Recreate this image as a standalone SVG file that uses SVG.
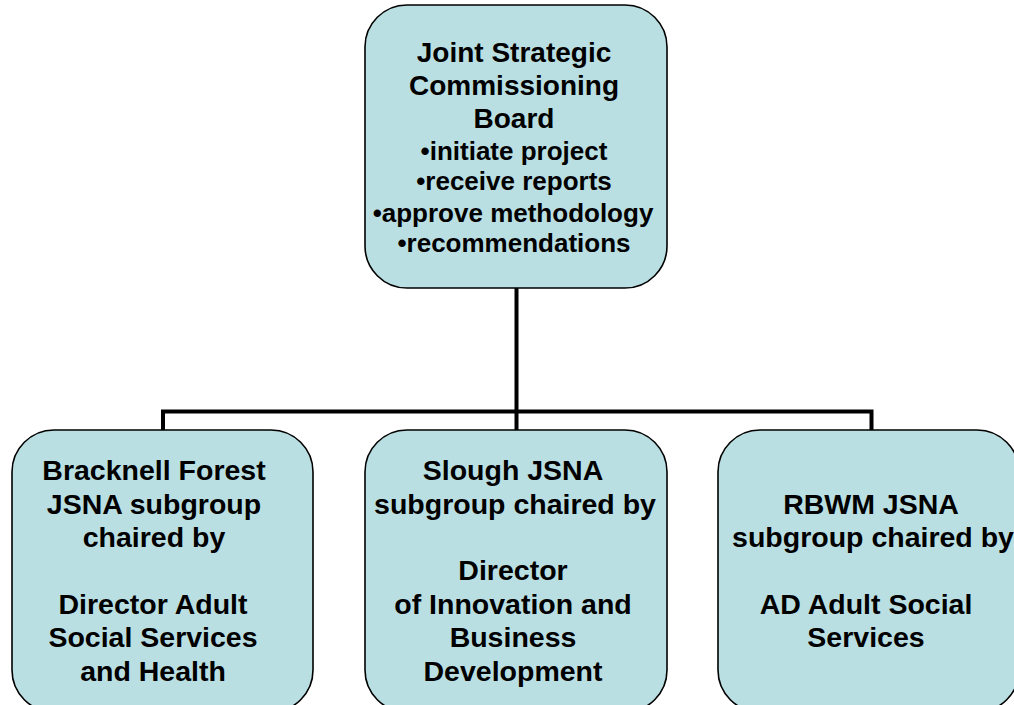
<svg xmlns="http://www.w3.org/2000/svg" width="1014" height="705" viewBox="0 0 1014 705">
<style>
.box{fill:#BADFE3;stroke:#000;stroke-width:1.6}
.t{font-family:"Liberation Sans",Arial,sans-serif;font-weight:bold;fill:#000;text-anchor:middle}
.conn{fill:none;stroke:#000;stroke-width:4;stroke-linejoin:miter}
</style>
<rect x="0" y="0" width="1014" height="705" fill="#fff"/>
<g id="connectors">
<path class="conn" d="M516.5,288 V411.5"/>
<path class="conn" d="M163,430 V411.5 H871.5 V430"/>
<path class="conn" d="M516.5,411.5 V430"/>
</g>
<g id="board">
<rect class="box" x="365" y="5" width="302" height="283" rx="42" ry="42"/>
<text class="t" font-size="28"><tspan x="514" y="62">Joint Strategic</tspan><tspan x="514" y="95">Commissioning</tspan><tspan x="514" y="128">Board</tspan></text>
<text class="t" font-size="26"><tspan x="514" y="160">•initiate project</tspan><tspan x="514" y="190">•receive reports</tspan><tspan x="513" y="222">•approve methodology</tspan><tspan x="514" y="252">•recommendations</tspan></text>
</g>
<g id="bracknell">
<rect class="box" x="12" y="430" width="301" height="282" rx="42" ry="42"/>
<text class="t" font-size="28.5"><tspan x="154" y="480">Bracknell Forest</tspan><tspan x="154" y="514">JSNA subgroup</tspan><tspan x="154" y="547">chaired by</tspan><tspan x="153" y="614">Director Adult</tspan><tspan x="153" y="647">Social Services</tspan><tspan x="153" y="681">and Health</tspan></text>
</g>
<g id="slough">
<rect class="box" x="365" y="430" width="302" height="282" rx="42" ry="42"/>
<text class="t" font-size="28.5"><tspan x="513" y="480">Slough JSNA</tspan><tspan x="515" y="514">subgroup chaired by</tspan><tspan x="513" y="580">Director</tspan><tspan x="513" y="614">of Innovation and</tspan><tspan x="513" y="647">Business</tspan><tspan x="513" y="681">Development</tspan></text>
</g>
<g id="rbwm">
<rect class="box" x="718" y="430" width="301" height="282" rx="42" ry="42"/>
<text class="t" font-size="28.5"><tspan x="871" y="514">RBWM JSNA</tspan><tspan x="873" y="547">subgroup chaired by</tspan><tspan x="866" y="614">AD Adult Social</tspan><tspan x="866" y="647">Services</tspan></text>
</g>
</svg>
